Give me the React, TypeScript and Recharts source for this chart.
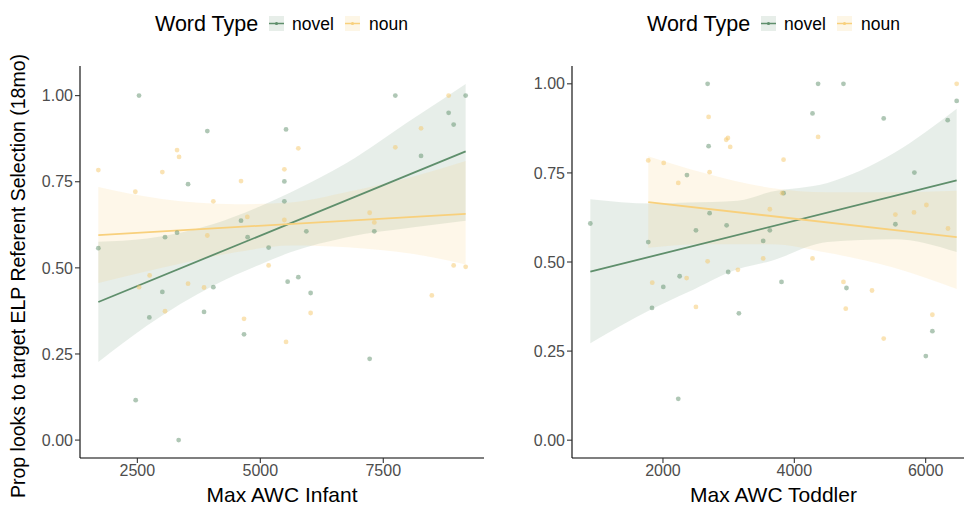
import { ComposedChart, XAxis, YAxis, Scatter, Line, Area } from "recharts";

// points: [Max AWC, prop looks]
const infantNovel = [
  [2534, 1.0], [3923, 0.897], [5523, 0.902], [3531, 0.743], [5489, 0.751], [5489, 0.693],
  [4608, 0.637], [1707, 0.557], [3063, 0.589], [3307, 0.602], [4742, 0.589], [5169, 0.559],
  [5936, 0.606], [7745, 1.0], [9175, 1.0], [8829, 0.95], [8931, 0.916], [8268, 0.825],
  [7318, 0.606], [3008, 0.43], [4045, 0.444], [2744, 0.356], [3856, 0.372], [4669, 0.307],
  [5556, 0.46], [2466, 0.116], [3340, 0.0], [5773, 0.473], [6023, 0.427], [7223, 0.236],
];
const infantNoun = [
  [3307, 0.842], [3348, 0.822], [1707, 0.784], [3008, 0.778], [4608, 0.752], [5489, 0.786],
  [2459, 0.721], [4045, 0.693], [4736, 0.648], [5489, 0.639], [3923, 0.594], [5773, 0.847],
  [8829, 1.0], [8268, 0.905], [7745, 0.85], [7223, 0.66], [7318, 0.632], [2750, 0.478],
  [2535, 0.444], [3531, 0.454], [3856, 0.443], [3063, 0.374], [4669, 0.352], [5169, 0.507],
  [5523, 0.285], [6023, 0.369], [8487, 0.42], [8931, 0.507], [9175, 0.503],
];
const toddlerNovel = [
  [894, 0.608], [2680, 1.0], [2695, 0.825], [2365, 0.744], [2710, 0.637], [2969, 0.603],
  [2502, 0.589], [1776, 0.556], [3627, 0.589], [3526, 0.559], [4362, 1.0], [4748, 1.0],
  [4277, 0.917], [5361, 0.903], [6472, 0.952], [6335, 0.898], [5828, 0.751], [3836, 0.693],
  [5539, 0.606], [2005, 0.43], [2254, 0.46], [2993, 0.472], [1833, 0.371], [3156, 0.356],
  [2233, 0.116], [3805, 0.444], [4794, 0.427], [6102, 0.306], [6002, 0.236],
];
const toddlerNoun = [
  [2695, 0.907], [2963, 0.843], [2989, 0.848], [3024, 0.823], [1776, 0.785], [2011, 0.778],
  [2233, 0.722], [2710, 0.752], [3627, 0.648], [3526, 0.51], [4362, 0.851], [3836, 0.787],
  [3815, 0.693], [5539, 0.633], [5822, 0.639], [6011, 0.66], [6340, 0.594], [4277, 0.51],
  [6472, 1.0], [2680, 0.502], [1837, 0.442], [2360, 0.455], [3141, 0.478], [2502, 0.374],
  [4748, 0.444], [5183, 0.42], [4783, 0.369], [6102, 0.352], [5361, 0.285],
];

// fitted lines (end points) and confidence bands
const infantNovelFit = [[1707, 0.401], [9175, 0.838]];
const infantNounFit = [[1707, 0.595], [9175, 0.657]];
const toddlerNovelFit = [[894, 0.473], [6472, 0.729]];
const toddlerNounFit = [[1776, 0.668], [6472, 0.57]];

const infantNovelBandX = [1707, 2700, 4050, 5000, 5612, 6763, 8118, 9175];
const infantNovelBandLo = [0.227, 0.333, 0.449, 0.51, 0.545, 0.589, 0.618, 0.637];
const infantNovelBandHi = [0.576, 0.585, 0.627, 0.679, 0.719, 0.805, 0.934, 1.034];
const infantNounBandX = [1707, 3000, 4500, 5612, 6763, 8118, 9175];
const infantNounBandLo = [0.456, 0.5, 0.545, 0.565, 0.56, 0.54, 0.51];
const infantNounBandHi = [0.735, 0.7, 0.685, 0.69, 0.72, 0.765, 0.81];

const toddlerNovelBandX = [894, 1833, 2376, 3136, 3643, 4505, 5518, 6472];
const toddlerNovelBandLo = [0.272, 0.368, 0.415, 0.48, 0.503, 0.556, 0.564, 0.528];
const toddlerNovelBandHi = [0.676, 0.664, 0.667, 0.672, 0.697, 0.722, 0.806, 0.93];
const toddlerNounBandX = [1776, 2628, 3643, 4505, 5518, 6472];
const toddlerNounBandLo = [0.54, 0.55, 0.55, 0.526, 0.484, 0.424];
const toddlerNounBandHi = [0.797, 0.75, 0.708, 0.696, 0.696, 0.7];

const yTicks = [0, 0.25, 0.5, 0.75, 1];
const infantTicks = [2500, 5000, 7500];
const toddlerTicks = [2000, 4000, 6000];

const NOVEL = "#5f8f6c";
const NOUN = "#f5c86a";
const NOUN_LINE = "#f8d07c";
const FONT = "'Liberation Sans', Arial, Helvetica, sans-serif";

const toPts = (arr: number[][]) => arr.map(([x, y]) => ({ x, y }));
const toBand = (xs: number[], lo: number[], hi: number[]) =>
  xs.map((x, i) => ({ x, range: [lo[i], hi[i]] }));

const dot = (color: string) => (p: any) =>
  <circle cx={p.cx} cy={p.cy} r={2.4} fill={color} fillOpacity={0.5} />;

const Panel = (props: any) => {
  const { width, margin, xDomain, xTicks, yDomain, title } = props;
  return (
    <ComposedChart width={width} height={508} margin={margin}>
      <XAxis
        type="number"
        dataKey="x"
        domain={xDomain}
        ticks={xTicks}
        allowDataOverflow
        height={50}
        stroke="#000"
        strokeWidth={1.1}
        tickSize={5}
        tickLine={{ stroke: "#333" }}
        tick={{ fill: "#4d4d4d", fontSize: 16, fontFamily: FONT }}
        label={{ value: title, position: "insideBottom", offset: 6, fill: "#000", fontSize: 21, fontFamily: FONT }}
      />
      <YAxis
        type="number"
        dataKey="y"
        domain={yDomain}
        ticks={yTicks}
        allowDataOverflow
        width={45}
        stroke="#000"
        strokeWidth={1.1}
        tickSize={5}
        tickLine={{ stroke: "#333" }}
        tickFormatter={(v: number) => v.toFixed(2)}
        tick={{ fill: "#4d4d4d", fontSize: 16, fontFamily: FONT }}
      />
      <Area data={props.novelBand} dataKey="range" type="monotone" stroke="none" fill={NOVEL} fillOpacity={0.15} isAnimationActive={false} />
      <Area data={props.nounBand} dataKey="range" type="monotone" stroke="none" fill={NOUN} fillOpacity={0.15} isAnimationActive={false} />
      <Scatter data={props.novel} shape={dot(NOVEL)} isAnimationActive={false} />
      <Scatter data={props.noun} shape={dot(NOUN)} isAnimationActive={false} />
      <Line data={props.novelFit} dataKey="y" type="linear" stroke={NOVEL} strokeWidth={1.8} dot={false} isAnimationActive={false} />
      <Line data={props.nounFit} dataKey="y" type="linear" stroke={NOUN_LINE} strokeWidth={1.8} dot={false} isAnimationActive={false} />
    </ComposedChart>
  );
};

const LegendKey = ({ x, color, fill }: any) => (
  <g>
    <rect x={x} y={16} width={15} height={15} fill={fill} />
    <line x1={x} x2={x + 15} y1={23.5} y2={23.5} stroke={color} strokeWidth={1.5} />
    <circle cx={x + 7.5} cy={23.5} r={1.6} fill={color} />
  </g>
);

const WordTypeLegend = ({ dx }: { dx: number }) => (
  <g transform={`translate(${dx},0)`} fontFamily={FONT}>
    <text x={155} y={31} fontSize={21.5} fill="#000">Word Type</text>
    <LegendKey x={269} color={NOVEL} fill="#e7eee9" />
    <text x={292} y={30} fontSize={17.5} fill="#000">novel</text>
    <LegendKey x={345} color={NOUN_LINE} fill="#fdf6e6" />
    <text x={369} y={30} fontSize={17.5} fill="#000">noun</text>
  </g>
);

export default function App() {
  return (
    <div style={{ position: "absolute", left: 0, top: 0, width: 964, height: 508, overflow: "hidden", background: "#fff" }}>
      <div style={{ position: "absolute", left: 0, top: 0 }}>
        <Panel
          width={490}
          margin={{ top: 66, right: 6, bottom: 0, left: 35 }}
          xDomain={[1334, 9548]}
          xTicks={infantTicks}
          yDomain={[-0.052, 1.086]}
          title="Max AWC Infant"
          novel={toPts(infantNovel)}
          noun={toPts(infantNoun)}
          novelFit={toPts(infantNovelFit)}
          nounFit={toPts(infantNounFit)}
          novelBand={toBand(infantNovelBandX, infantNovelBandLo, infantNovelBandHi)}
          nounBand={toBand(infantNounBandX, infantNounBandLo, infantNounBandHi)}
        />
      </div>
      <div style={{ position: "absolute", left: 520, top: 0 }}>
        <Panel
          width={470}
          margin={{ top: 66, right: 15, bottom: 0, left: 7 }}
          xDomain={[615, 6751]}
          xTicks={toddlerTicks}
          yDomain={[-0.05, 1.05]}
          title="Max AWC Toddler"
          novel={toPts(toddlerNovel)}
          noun={toPts(toddlerNoun)}
          novelFit={toPts(toddlerNovelFit)}
          nounFit={toPts(toddlerNounFit)}
          novelBand={toBand(toddlerNovelBandX, toddlerNovelBandLo, toddlerNovelBandHi)}
          nounBand={toBand(toddlerNounBandX, toddlerNounBandLo, toddlerNounBandHi)}
        />
      </div>
      <svg width={964} height={50} style={{ position: "absolute", left: 0, top: 0 }}>
        <WordTypeLegend dx={0} />
        <WordTypeLegend dx={492} />
      </svg>
      <svg width={40} height={508} style={{ position: "absolute", left: 0, top: 0 }}>
        <text
          x={18}
          y={276}
          transform="rotate(-90 18 276)"
          textAnchor="middle"
          dominantBaseline="central"
          fontSize={19.5}
          fontFamily={FONT}
          fill="#000"
        >
          Prop looks to target ELP Referent Selection (18mo)
        </text>
      </svg>
    </div>
  );
}
